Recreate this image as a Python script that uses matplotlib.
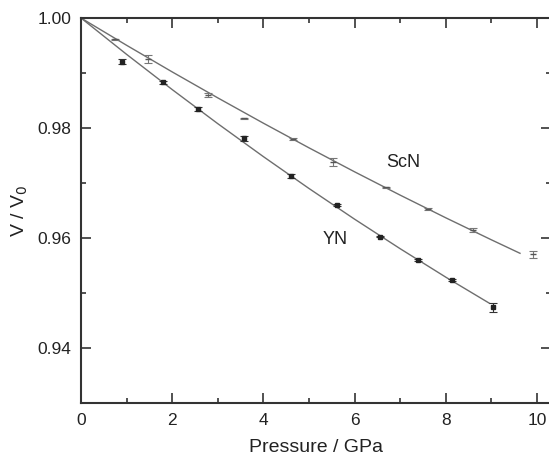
import matplotlib
matplotlib.use('Agg')
import matplotlib.pyplot as plt
from matplotlib.ticker import MultipleLocator

plt.rcParams['font.family'] = ['Liberation Sans', 'DejaVu Sans']

# ScN data (pressure GPa, V/V0, error)
scn_p = [0.75, 1.48, 2.79, 3.57, 4.64, 5.53, 6.69, 7.62, 8.59, 9.92]
scn_v = [0.99613, 0.99249, 0.9860, 0.98176, 0.9780, 0.97387, 0.96922, 0.96527, 0.96145, 0.95704]
scn_err = [0.0001, 0.0007, 0.0004, 0.0001, 0.0001, 0.0007, 0.0001, 0.0001, 0.0003, 0.0006]

# YN data
yn_p = [0.91, 1.80, 2.57, 3.58, 4.60, 5.62, 6.56, 7.40, 8.13, 9.04]
yn_v = [0.99205, 0.98831, 0.98345, 0.97813, 0.97127, 0.9660, 0.96024, 0.9560, 0.95236, 0.9474]
yn_err = [0.0005, 0.0003, 0.0003, 0.0005, 0.0004, 0.0002, 0.0001, 0.0002, 0.0002, 0.0008]

# fitted EoS curves
scn_fit_p = [0, 1, 2, 3, 4, 5, 6, 7, 8, 9, 9.63]
scn_fit_v = [1.0, 0.99504, 0.99020, 0.98548, 0.98088, 0.97640, 0.97204, 0.96780, 0.96368, 0.95968, 0.95722]
yn_fit_p = [0, 1, 2, 3, 4, 5, 6, 7, 8, 8.96]
yn_fit_v = [1.0, 0.99339, 0.98699, 0.98079, 0.97480, 0.96901, 0.96343, 0.95806, 0.95289, 0.94813]

fig = plt.figure(figsize=(5.49, 4.57), dpi=100)
ax = fig.add_axes([81/549, 1-403/457, 470/549, 385/457])

ax.plot(scn_fit_p, scn_fit_v, color='#6e6e6e', lw=1.0)
ax.plot(yn_fit_p, yn_fit_v, color='#6e6e6e', lw=1.0)

ax.errorbar(scn_p, scn_v, yerr=scn_err, fmt='_', color='#555555', ms=4,
            ecolor='#777777', elinewidth=0.8, capsize=3, capthick=0.8)
ax.errorbar(yn_p, yn_v, yerr=yn_err, fmt='s', color='#222222', ms=2.2,
            ecolor='#333333', elinewidth=0.8, capsize=3, capthick=0.8)

ax.text(7.08, 0.97364, 'ScN', fontsize=13, ha='center', va='center', color='#222222')
ax.text(5.57, 0.95964, 'YN', fontsize=13, ha='center', va='center', color='#222222')

ax.set_xlim(0, 10.31)
ax.set_ylim(0.93, 1.00)
ax.xaxis.set_major_locator(MultipleLocator(2))
ax.xaxis.set_minor_locator(MultipleLocator(1))
ax.yaxis.set_major_locator(MultipleLocator(0.02))
ax.yaxis.set_minor_locator(MultipleLocator(0.01))
ax.yaxis.set_major_formatter(plt.FormatStrFormatter('%.2f'))

ax.tick_params(which='both', direction='in', top=True, right=True,
               colors='#333333', labelcolor='#222222', labelsize=12.5, width=1.2)
ax.tick_params(which='major', length=7, pad=7)
ax.tick_params(which='minor', length=3.5)
for s in ax.spines.values():
    s.set_color('#333333')
    s.set_linewidth(1.5)

ax.set_xlabel('Pressure / GPa', fontsize=14, color='#222222', labelpad=8)
ax.set_ylabel('V / V$_0$', fontsize=14, color='#222222', labelpad=5)

fig.savefig('out.png', dpi=100)
